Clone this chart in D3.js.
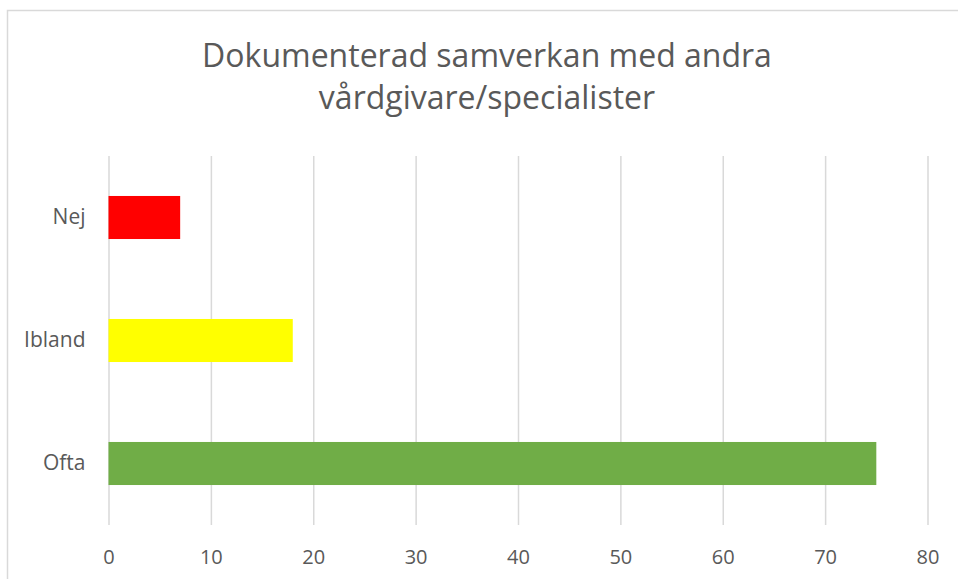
<!DOCTYPE html>
<html>
<head>
<meta charset="utf-8">
<script src="https://cdn.jsdelivr.net/npm/d3@7"></script>
<style>
  html, body { margin: 0; padding: 0; background: #ffffff; }
  svg { display: block; }
</style>
</head>
<body>
<svg id="chart" width="958" height="579"></svg>
<script>
const titleLines = ["Dokumenterad samverkan med andra", "vårdgivare/specialister"];
const categories = ["Nej", "Ibland", "Ofta"];
const values = [7, 18, 75];
const barColors = ["#FF0000", "#FFFF00", "#70AD47"];
const xTicks = [0, 10, 20, 30, 40, 50, 60, 70, 80];

const svg = d3.select("#chart");
const W = 958, H = 579;
const plot = { left: 108.5, right: 927.5, top: 156, bottom: 525 };
const font = "'Open Sans', 'Noto Sans', sans-serif";
const textColor = "#595959";
const gridColor = "#d9d9d9";

// chart border
svg.append("rect")
  .attr("x", 7.5).attr("y", 10.5)
  .attr("width", 960).attr("height", 600)
  .attr("fill", "#ffffff")
  .attr("stroke", gridColor).attr("stroke-width", 1.5);

// title
const title = svg.append("text")
  .attr("text-anchor", "middle")
  .attr("font-family", font)
  .attr("font-size", 32)
  .attr("fill", textColor);
title.selectAll("tspan").data(titleLines).join("tspan")
  .attr("x", 487)
  .attr("y", (d, i) => 67 + i * 42)
  .text(d => d);

const x = d3.scaleLinear().domain([0, 80]).range([plot.left, plot.right]);
const y = d3.scaleBand().domain(categories).range([plot.top, plot.bottom])
  .paddingInner(0.65).paddingOuter(0.325);

// gridlines + x tick labels
const xAxis = svg.append("g")
  .attr("transform", `translate(0,${plot.bottom})`)
  .call(d3.axisBottom(x).tickValues(xTicks)
    .tickSize(-(plot.bottom - plot.top)).tickSizeOuter(0).tickFormat(d3.format("d")));
xAxis.select(".domain").remove();
xAxis.selectAll(".tick line").attr("stroke", gridColor).attr("stroke-width", 1.5);
xAxis.selectAll(".tick text")
  .attr("y", 39).attr("dy", 0)
  .attr("font-family", font).attr("font-size", 20)
  .attr("fill", textColor);

// bars
svg.append("g").selectAll("rect").data(values).join("rect")
  .attr("x", x(0))
  .attr("y", (d, i) => y(categories[i]))
  .attr("width", d => x(d) - x(0))
  .attr("height", y.bandwidth())
  .attr("fill", (d, i) => barColors[i]);

// category axis
const yAxis = svg.append("g")
  .attr("transform", `translate(${plot.left},0)`)
  .call(d3.axisLeft(y).tickSize(0).tickPadding(23));
yAxis.select(".domain").remove();
yAxis.selectAll(".tick text")
  .attr("font-family", font).attr("font-size", 21)
  .attr("fill", textColor);
</script>
</body>
</html>
